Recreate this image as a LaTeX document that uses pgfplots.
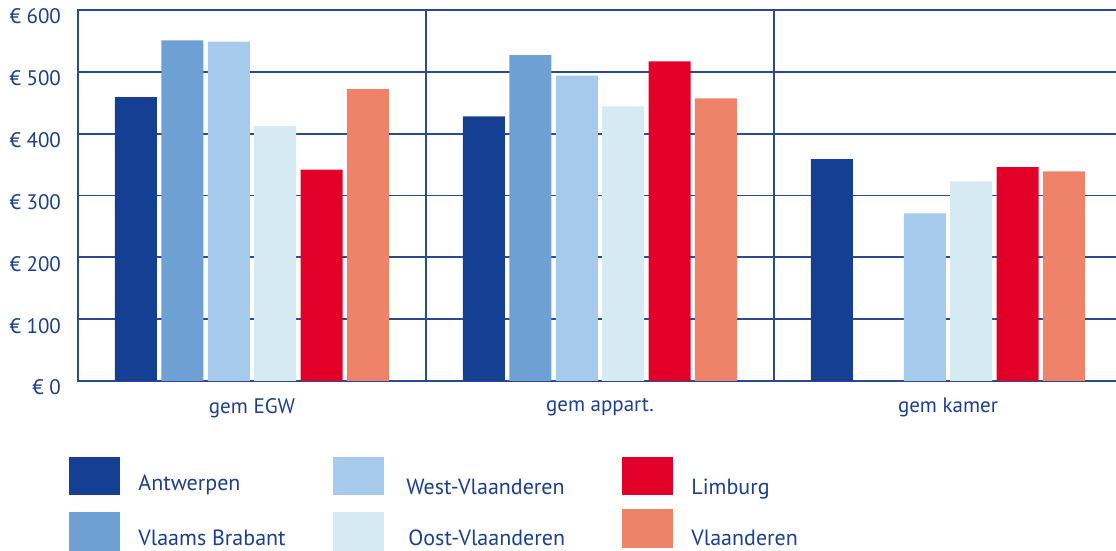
\documentclass[border=0pt]{standalone}
\usepackage{pgfplots}
\pgfplotsset{compat=1.18}
\usepackage{fontspec}
\setmainfont{PT Sans}

\definecolor{txt}{HTML}{1B3F8E}
\definecolor{gridc}{HTML}{2A4A94}
\definecolor{cAnt}{HTML}{143F93}
\definecolor{cVB}{HTML}{6FA0D4}
\definecolor{cWV}{HTML}{A5CAEC}
\definecolor{cOV}{HTML}{D5EAF3}
\definecolor{cLi}{HTML}{E30028}
\definecolor{cVl}{HTML}{EF836A}

\begin{document}
\begin{tikzpicture}[x=0.5pt,y=0.5pt]
\useasboundingbox (-78,-170) rectangle (1038,381);
\begin{axis}[
  at={(0,0)}, anchor=south west,
  scale only axis, width=522pt, height=185.5pt,
  xmin=-0.5, xmax=2.5, ymin=0, ymax=600,
  enlargelimits=false,
  ybar=2.2pt, bar width=21pt,
  axis line style={gridc, line width=0.9pt},
  ytick={0,100,...,600},
  ymajorgrids, grid style={gridc, line width=0.9pt},
  major tick length=0pt,
  xtick={0,1,2},
  xticklabels={gem EGW, gem appart., gem kamer},
  extra x ticks={0.5,1.5}, extra x tick labels={},
  extra x tick style={grid=major, major grid style={gridc, line width=0.9pt}},
  /pgf/number format/assume math mode=true,
  yticklabel={€ \pgfmathprintnumber{\tick}},
  yticklabel style={font=\fontsize{10.5}{12}\selectfont, text=txt, anchor=east, xshift=-5pt, yshift=-3.3pt},
  xticklabel style={font=\fontsize{10.5}{12}\selectfont, text=txt, yshift=-5pt},
]
% Antwerpen
\addplot[fill=cAnt, draw=none] coordinates {(0,459) (1,428) (2,359)};
% Vlaams Brabant (no value for gem kamer)
\addplot[fill=cVB, draw=none] coordinates {(0,551) (1,527)};
% West-Vlaanderen
\addplot[fill=cWV, draw=none] coordinates {(0,549) (1,494) (2,271)};
% Oost-Vlaanderen
\addplot[fill=cOV, draw=none] coordinates {(0,412) (1,444) (2,323)};
% Limburg
\addplot[fill=cLi, draw=none] coordinates {(0,342) (1,517) (2,346)};
% Vlaanderen
\addplot[fill=cVl, draw=none] coordinates {(0,472) (1,457) (2,339)};
\end{axis}

% legend, three columns of two entries
\begin{scope}[every node/.style={anchor=base west, inner sep=0pt, text=txt, font=\fontsize{11}{13}\selectfont}]
  \fill[cAnt] (-9,-76) rectangle (42,-114);
  \node at (60,-110) {Antwerpen};
  \fill[cVB] (-9,-131) rectangle (42,-170);
  \node at (60,-165) {Vlaams Brabant};
  \fill[cWV] (255,-76) rectangle (306,-114);
  \node at (328,-114) {West-Vlaanderen};
  \fill[cOV] (255,-131) rectangle (306,-170);
  \node at (330,-165) {Oost-Vlaanderen};
  \fill[cLi] (544,-76) rectangle (595,-114);
  \node at (613,-114) {Limburg};
  \fill[cVl] (544,-128) rectangle (595,-167);
  \node at (613,-165) {Vlaanderen};
\end{scope}
\end{tikzpicture}
\end{document}
